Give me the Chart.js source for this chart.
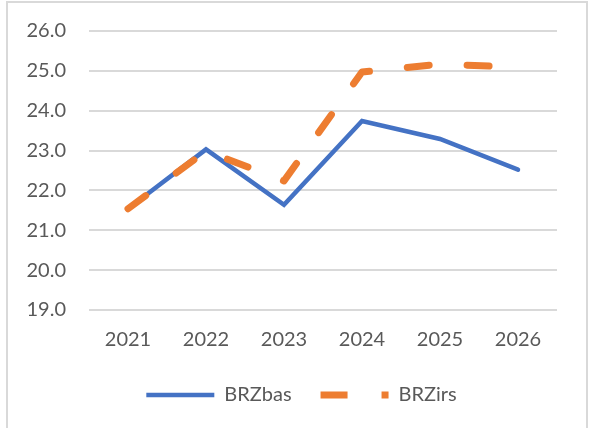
<!DOCTYPE html>
<html>
<head>
<meta charset="utf-8">
<script src="https://cdn.jsdelivr.net/npm/chart.js@4/dist/chart.umd.min.js"></script>
<style>
  html, body { margin: 0; padding: 0; background: #ffffff; }
  #wrap { position: relative; width: 593px; height: 428px; overflow: hidden; }
  #frame { position: absolute; left: 6px; top: 1px; width: 578px; height: 440px; border: 2px solid #D9D9D9; box-sizing: content-box; }
  #c { position: absolute; left: 0; top: 0; }
</style>
</head>
<body>
<div id="wrap">
  <div id="frame"></div>
  <canvas id="c" width="593" height="428"></canvas>
</div>
<script>
const categories = ["2021", "2022", "2023", "2024", "2025", "2026"];
const seriesNames = ["BRZbas", "BRZirs"];
const brzBas = [21.54, 23.03, 21.64, 23.74, 23.29, 22.52];
const brzIrs = [21.54, 22.99, 22.24, 24.97, 25.17, 25.09];
const yMin = 19, yMax = 26, yStep = 1;

const TEXT = "#595959";
const FONT = "Lato, 'Open Sans', sans-serif";

const legendTweak = {
  id: "legendTweak",
  beforeLayout(ch) {
    const lg = ch.legend;
    if (lg && !lg._patched) {
      const f = lg.fit.bind(lg);
      lg.fit = function () { f(); this.height -= 11; };
      lg._patched = true;
    }
  },
  afterLayout(ch) {
    const lg = ch.legend;
    if (lg) { lg.left += 13; lg.right += 13; lg.top -= 14; lg.bottom -= 14; }
  }
};

const chart = new Chart(document.getElementById("c"), {
  type: "line",
  data: {
    labels: categories,
    datasets: [
      {
        label: seriesNames[0],
        data: brzBas,
        borderColor: "#4472C4",
        backgroundColor: "#4472C4",
        borderWidth: 4.5,
        borderCapStyle: "round",
        borderJoinStyle: "miter",
        pointRadius: 0,
        tension: 0,
        fill: false,
        order: 1
      },
      {
        label: seriesNames[1],
        data: brzIrs,
        borderColor: "#ED7D31",
        backgroundColor: "#ED7D31",
        borderWidth: 7,
        borderDash: [22, 38],
        borderCapStyle: "round",
        borderJoinStyle: "round",
        pointRadius: 0,
        tension: 0,
        fill: false,
        order: 0
      }
    ]
  },
  plugins: [legendTweak],
  options: {
    responsive: false,
    animation: false,
    devicePixelRatio: 1,
    layout: { padding: { left: 20, right: 36, top: 31, bottom: 10 } },
    scales: {
      x: {
        offset: true,
        grid: { display: false, drawTicks: false },
        border: { display: false },
        ticks: { color: TEXT, font: { family: FONT, size: 20 }, padding: 18, maxRotation: 0 }
      },
      y: {
        min: yMin,
        max: yMax,
        grid: { color: "#D9D9D9", lineWidth: 2, drawTicks: false },
        border: { display: false },
        ticks: {
          stepSize: yStep,
          color: TEXT,
          font: { family: FONT, size: 20 },
          padding: 23,
          callback: v => Number(v).toFixed(1)
        },
        afterFit: s => { s.width = 69; s.paddingTop = 0; s.paddingBottom = 0; }
      }
    },
    plugins: {
      tooltip: { enabled: false },
      legend: {
        position: "bottom",
        labels: {
          color: TEXT,
          font: { family: FONT, size: 20 },
          usePointStyle: true,
          pointStyle: "line",
          pointStyleWidth: 68,
          padding: 29,
          generateLabels: (ch) => {
            const items = Chart.defaults.plugins.legend.labels.generateLabels(ch);
            items.sort((a, b) => a.datasetIndex - b.datasetIndex);
            items.forEach(it => {
              it.pointStyle = "line";
              if (it.datasetIndex === 1) it.lineDash = [27, 34];
            });
            return items;
          }
        }
      }
    }
  }
});
</script>
</body>
</html>
